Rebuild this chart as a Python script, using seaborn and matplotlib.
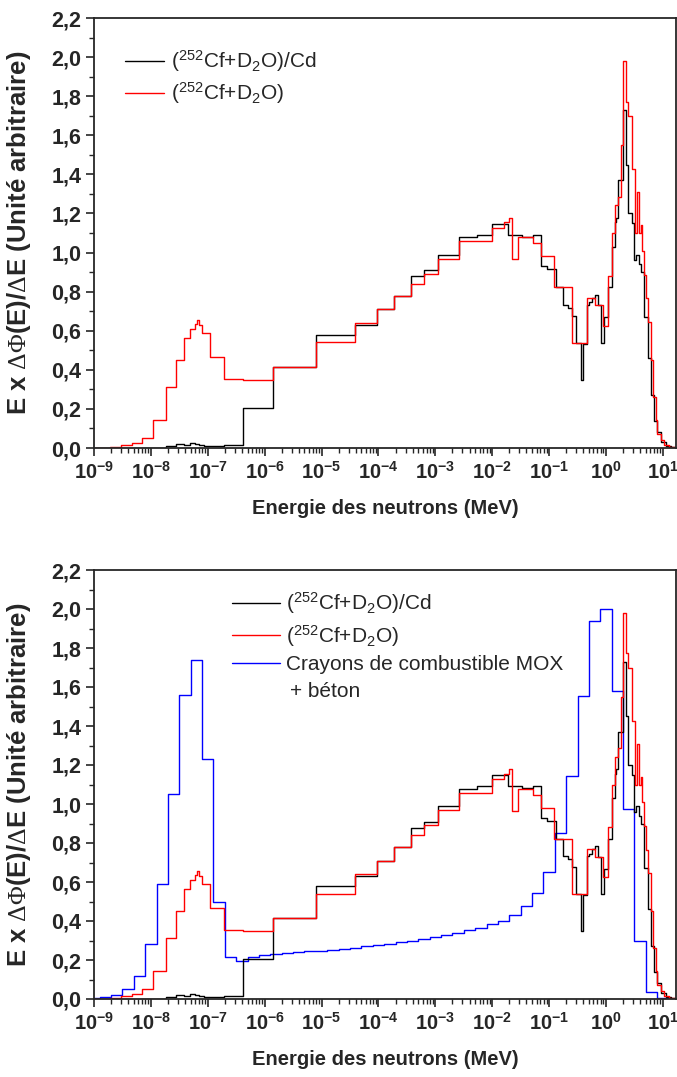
import numpy as np
import pandas as pd
import matplotlib
matplotlib.use("Agg")
import matplotlib.pyplot as plt
import seaborn as sns
from matplotlib.ticker import FixedLocator, FuncFormatter, MultipleLocator, NullFormatter

# ---------------- data (log10 of energy bin edges in MeV, values per bin) ----------------
red_log_edges = [-9.00, -8.72, -8.52, -8.33, -8.16, -7.96, -7.74, -7.55, -7.41, -7.31,
                 -7.23, -7.19, -7.16, -7.10, -6.96, -6.71, -6.38, -5.86, -5.09, -4.41,
                 -4.02, -3.72, -3.435, -3.20, -2.95, -2.585, -2.01, -1.79, -1.70, -1.66,
                 -1.54, -1.28, -1.145, -0.91, -0.59, -0.33, -0.19, -0.05, 0.04, 0.10,
                 0.153, 0.217, 0.264, 0.305, 0.347, 0.387, 0.452, 0.51, 0.551, 0.58,
                 0.61, 0.638, 0.668, 0.698, 0.738, 0.786, 0.826, 0.873, 0.902, 0.961,
                 1.02, 1.107, 1.23]
red_values = [0.002, 0.005, 0.014, 0.026, 0.053, 0.142, 0.313, 0.45, 0.564, 0.609,
              0.634, 0.655, 0.63, 0.59, 0.467, 0.352, 0.347, 0.415, 0.54, 0.64,
              0.71, 0.78, 0.84, 0.89, 0.967, 1.057, 1.126, 1.155, 1.177, 0.966,
              1.077, 1.048, 0.98, 0.823, 0.536, 0.767, 0.73, 0.624, 0.88, 1.10,
              1.241, 1.285, 1.548, 1.98, 1.772, 1.698, 1.425, 1.10, 1.31, 1.10,
              1.14, 1.01, 0.886, 0.766, 0.647, 0.45, 0.262, 0.142, 0.074, 0.04,
              0.014, 0.005]

black_log_edges = [-9.00, -7.73, -7.55, -7.41, -7.32, -7.23, -7.16, -7.06, -6.71, -6.38,
                   -5.86, -5.09, -4.41, -4.02, -3.72, -3.435, -3.20, -2.95, -2.585, -2.27,
                   -2.01, -1.73, -1.47, -1.28, -1.145, -1.03, -0.88, -0.754, -0.661, -0.591,
                   -0.52, -0.443, -0.403, -0.338, -0.297, -0.25, -0.192, -0.134, -0.087, -0.029,
                   0.041, 0.112, 0.153, 0.182, 0.217, 0.305, 0.347, 0.387, 0.45, 0.494,
                   0.53, 0.58, 0.61, 0.668, 0.738, 0.786, 0.84, 0.90, 0.96, 1.05,
                   1.15, 1.23]
black_values = [0.002, 0.01, 0.022, 0.014, 0.027, 0.02, 0.015, 0.01, 0.016, 0.207,
                0.415, 0.578, 0.63, 0.71, 0.78, 0.878, 0.91, 0.99, 1.078, 1.09,
                1.147, 1.09, 1.08, 1.09, 0.93, 0.915, 0.823, 0.732, 0.718, 0.676,
                0.536, 0.347, 0.533, 0.733, 0.745, 0.769, 0.783, 0.73, 0.536, 0.669,
                0.823, 1.03, 1.155, 1.177, 1.37, 1.73, 1.45, 1.20, 1.15, 0.96,
                0.99, 0.94, 0.90, 0.67, 0.46, 0.27, 0.14, 0.08, 0.033, 0.01,
                0.003]

blue_log_edges = [-9.1, -8.9, -8.7, -8.5, -8.3, -8.1, -7.9, -7.7, -7.5, -7.3,
                  -7.1, -6.9, -6.7, -6.5, -6.3, -6.1, -5.9, -5.7, -5.5, -5.3,
                  -5.1, -4.9, -4.7, -4.5, -4.3, -4.1, -3.9, -3.7, -3.5, -3.3,
                  -3.1, -2.9, -2.7, -2.5, -2.3, -2.1, -1.9, -1.7, -1.5, -1.3,
                  -1.1, -0.9, -0.7, -0.5, -0.3, -0.1, 0.1, 0.3, 0.5, 0.7,
                  0.9, 1.1]
blue_values = [0.003, 0.008, 0.022, 0.05, 0.12, 0.28, 0.59, 1.05, 1.557, 1.736,
               1.23, 0.50, 0.217, 0.194, 0.217, 0.228, 0.232, 0.236, 0.240, 0.244,
               0.248, 0.252, 0.258, 0.264, 0.272, 0.278, 0.284, 0.290, 0.298, 0.308,
               0.318, 0.326, 0.338, 0.352, 0.366, 0.384, 0.400, 0.430, 0.477, 0.542,
               0.653, 0.853, 1.143, 1.552, 1.936, 2.0, 1.58, 0.975, 0.30, 0.034,
               0.003]

y_ticks = [0.0, 0.2, 0.4, 0.6, 0.8, 1.0, 1.2, 1.4, 1.6, 1.8, 2.0, 2.2]
y_tick_labels = ["0,0", "0,2", "0,4", "0,6", "0,8", "1,0", "1,2", "1,4", "1,6", "1,8", "2,0", "2,2"]
x_decades = [-9, -8, -7, -6, -5, -4, -3, -2, -1, 0, 1]

label_black = r"($^{252}$Cf+D$_2$O)/Cd"
label_red = r"($^{252}$Cf+D$_2$O)"
label_blue = "Crayons de combustible MOX"
label_blue_2 = "+ béton"
x_label = "Energie des neutrons (MeV)"
y_label = r"E x $\mathrm{\Delta\Phi}$(E)/$\mathrm{\Delta}$E (Unité arbitraire)"

# ---------------- style ----------------
sns.set_style("ticks")
plt.rcParams["font.family"] = ["Liberation Sans", "DejaVu Sans"]
plt.rcParams["mathtext.fontset"] = "custom"
plt.rcParams["mathtext.rm"] = "Liberation Serif"
plt.rcParams["mathtext.default"] = "regular"
plt.rcParams["axes.linewidth"] = 1.3


def step_frame(log_edges, values):
    energies = 10.0 ** np.asarray(log_edges, dtype=float)
    vals = list(values) + [values[-1]]
    return pd.DataFrame({"E": energies, "v": vals})


fig = plt.figure(figsize=(6.77, 10.77), dpi=100)
W, H = 677.0, 1077.0
ax_top = fig.add_axes([94 / W, 1 - 448 / H, 582 / W, 430 / H])
ax_bot = fig.add_axes([94 / W, 1 - 999 / H, 582 / W, 429 / H])


def draw(ax, series):
    for log_edges, values, color, label in series:
        df = step_frame(log_edges, values)
        sns.lineplot(data=df, x="E", y="v", ax=ax, color=color, lw=1.0,
                     drawstyle="steps-post", estimator=None, sort=False,
                     label=label, legend=False)


def style_axes(ax):
    ax.set_xscale("log")
    ax.set_xlim(1e-9, 10 ** 1.23)
    ax.set_ylim(0, 2.2)
    ax.xaxis.set_major_locator(FixedLocator([10.0 ** d for d in x_decades]))
    minor = [m * 10.0 ** d for d in x_decades[:-1] for m in range(2, 10)]
    ax.xaxis.set_minor_locator(FixedLocator(minor))
    ax.xaxis.set_major_formatter(FuncFormatter(lambda v, p: r"$10^{%d}$" % round(np.log10(v))))
    ax.xaxis.set_minor_formatter(NullFormatter())
    ax.yaxis.set_major_locator(FixedLocator(y_ticks))
    ax.set_yticklabels(y_tick_labels)
    ax.yaxis.set_minor_locator(MultipleLocator(0.1))
    ax.tick_params(axis="both", which="major", direction="out", length=6, width=1.2, pad=3)
    ax.tick_params(axis="x", which="major", labelsize=14.5)
    ax.tick_params(axis="y", which="major", labelsize=15.5)
    ax.tick_params(axis="both", which="minor", direction="out", length=3.5, width=1.0)
    ax.tick_params(top=False, right=False, which="both")
    for lab in ax.get_xticklabels() + ax.get_yticklabels():
        lab.set_fontweight("bold")
    for s in ax.spines.values():
        s.set_visible(True)
        s.set_linewidth(1.3)
    ax.set_xlabel(x_label, fontsize=14.5, fontweight="bold", labelpad=12)
    ax.set_ylabel(y_label, fontsize=18.5, fontweight="bold")
    ax.yaxis.set_label_coords(-0.104, 0.5)


draw(ax_top, [(black_log_edges, black_values, "black", label_black),
              (red_log_edges, red_values, "#ff0000", label_red)])
style_axes(ax_top)
ax_top.legend(handles=ax_top.get_lines()[:2], loc="upper left", bbox_to_anchor=(0.053, 0.93),
              frameon=False, fontsize=15, handlelength=1.9, handletextpad=0.3,
              labelspacing=0.3, borderaxespad=0, borderpad=0)

draw(ax_bot, [(blue_log_edges, blue_values, "#0000ff", label_blue),
              (black_log_edges, black_values, "black", label_black),
              (red_log_edges, red_values, "#ff0000", label_red)])
style_axes(ax_bot)
lines = ax_bot.get_lines()
ax_bot.legend(handles=[lines[1], lines[2], lines[0]], loc="upper left",
              bbox_to_anchor=(0.237, 0.952), frameon=False, fontsize=15,
              handlelength=2.3, handletextpad=0.3, labelspacing=0.3,
              borderaxespad=0, borderpad=0)
ax_bot.text(0.337, 0.716, label_blue_2, transform=ax_bot.transAxes, fontsize=15,
            ha="left", va="center")

fig.savefig("out.png", dpi=100)
